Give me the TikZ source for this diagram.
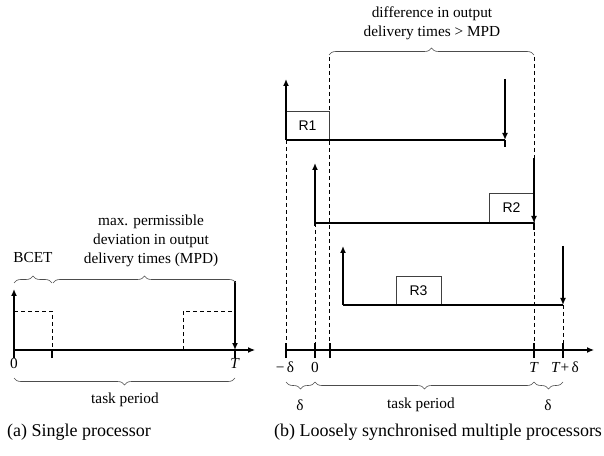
\documentclass[tikz,border=0pt]{standalone}
\usepackage{fontspec}
\setmainfont{Liberation Serif}
\newfontfamily\rfont{Liberation Sans}
\usetikzlibrary{arrows.meta,decorations.pathreplacing}

\begin{document}
\begin{tikzpicture}[x=1pt,y=1pt,line width=1.6pt,>={Latex[length=7pt,width=6pt]},
  dsh/.style={line width=.7pt,dash pattern=on 4pt off 3pt},
  rbox/.style={draw=black!75,line width=.9pt},
  brc/.style={draw=black!70,line width=.6pt,decorate,decoration={brace,amplitude=7pt}},
  lbl/.style={font=\fontsize{15.3}{19}\selectfont,inner sep=0pt},
  rlbl/.style={font=\rfont\fontsize{14}{16}\selectfont,inner sep=0pt},
  captext/.style={font=\fontsize{18}{21}\selectfont,inner sep=0pt}]
\useasboundingbox (0,0) rectangle (604,455);
% (a) one processor
\draw[->,line width=1.2pt] (14,105) -- (255,105);
\foreach \x in {14,52,235} \draw (\x,97) -- (\x,106);
\draw[->] (14,105) -- (14,166);
\draw[dsh] (14,144) -- (52,144) -- (52,105) (183,105) -- (183,144) -- (235,144);
\draw[->] (235,174) -- (235,105);
\node[lbl] (a0) at (14,92) {0};
\node[lbl] (aT) at (235,92) {\textit{T}};
\draw[brc] (14,172) -- (52,172);
\draw[brc] (53,172) -- (236,172);
\node[lbl] (bcet) at (33,197) {BCET};
\node[lbl,align=center] (mpd) at (151,214) {max. permissible\\deviation in output\\delivery times (MPD)};
\draw[brc] (235,77) -- (14,77);
\node[lbl] (pera) at (125,55) {task period};
\node[captext] (capa) at (79,23) {(a) Single processor};
% (b) three replicas R1..R3
\draw[->,line width=1.2pt] (285,105) -- (594,105);
\foreach \x in {286,315,330,534,563} \draw (\x,97) -- (\x,112);
\node[lbl] (bm) at (285,88) {−\,δ};
\node[lbl] (b0) at (315,88) {0};
\node[lbl] (bT) at (534,88) {\textit{T}};
\node[lbl] (bTd) at (565,88) {\textit{T}+\,δ};
\draw[dsh] (286,315) -- (286,105);
\draw[dsh] (329,398) -- (329,105);
\draw[dsh] (534,398) -- (534,105);
\draw[dsh] (315,232) -- (315,105);
\draw[dsh] (563,150) -- (563,105);
\draw[brc] (329,400) -- (534,400);
\node[lbl,align=center] (diff) at (432,432) {difference in output\\delivery times > MPD};
% R1
\draw[rbox] (286,315) rectangle (329,344);
\node[rlbl] (r1) at (307.5,329.5) {R1};
\draw (286,315) -- (505,315) (505,315) -- (505,308);
\draw[->] (286,315) -- (286,376);
\draw[->] (505,376) -- (505,315);
% R2
\draw[rbox] (489,232) rectangle (534,262);
\node[rlbl] (r2) at (511.5,247) {R2};
\draw (315,232) -- (534,232) (534,232) -- (534,225);
\draw[->] (315,229) -- (315,292);
\draw[->] (534,297) -- (534,232);
% R3
\draw[rbox] (396,150) rectangle (441,179);
\node[rlbl] (r3) at (418.5,164.5) {R3};
\draw (343,150) -- (563,150);
\draw[->] (343,150) -- (343,209);
\draw[->] (563,209) -- (563,150);
\draw[brc] (315,73) -- (286,73);
\draw[brc] (534,73) -- (315,73);
\draw[brc] (563,73) -- (534,73);
\node[lbl] (dl) at (300,50) {δ};
\node[lbl] (perb) at (421,50) {task period};
\node[lbl] (dr) at (548,50) {δ};
\node[captext] (capb) at (438,23) {(b) Loosely synchronised multiple processors};
\end{tikzpicture}
\end{document}
